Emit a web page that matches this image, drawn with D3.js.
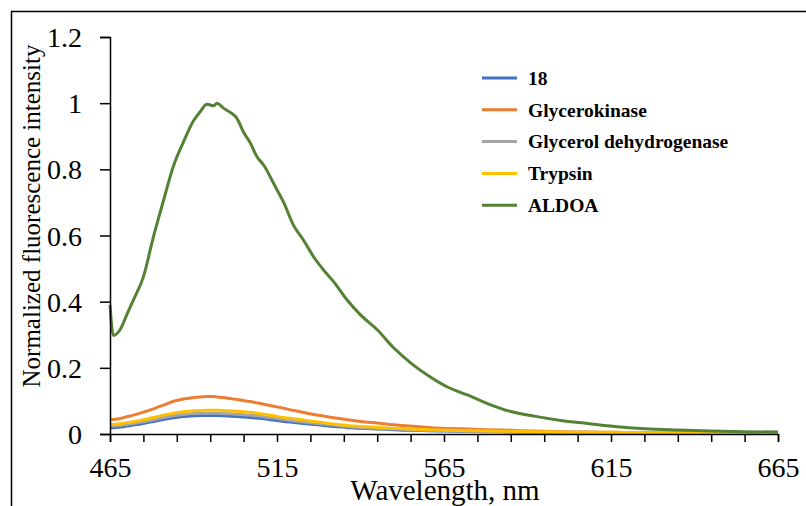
<!DOCTYPE html>
<html>
<head>
<meta charset="utf-8">
<script src="https://cdn.jsdelivr.net/npm/d3@7.9.0/dist/d3.min.js"></script>
<style>
  body { margin: 0; background: #fff; }
  text { font-family: 'Liberation Serif', serif; }
</style>
</head>
<body>
<svg id="chart" width="806" height="506"></svg>
<script>
// ====== DATA ======

const wavelengths = [465, 466, 468, 470, 472, 475, 478, 481, 484, 487, 490, 492, 494, 496, 497, 499,
  501, 503, 505, 507, 509, 511, 514, 517, 520, 523, 526, 529, 532, 536, 540, 545, 550, 555, 560,
  566, 572, 578, 585, 592, 600, 608, 616, 625, 635, 645, 655, 665];

const seriesNames = ['18', 'Glycerokinase', 'Glycerol dehydrogenase', 'Trypsin', 'ALDOA'];
const seriesColors = ['#4472C4', '#ED7D31', '#A5A5A5', '#FFC000', '#548235'];

const values18 = [0.019, 0.019, 0.021, 0.024, 0.027, 0.032, 0.038, 0.044, 0.049, 0.053, 0.055, 0.056,
  0.056, 0.056, 0.056, 0.055, 0.054, 0.053, 0.051, 0.050, 0.048, 0.046, 0.042, 0.038, 0.035, 0.032,
  0.029, 0.026, 0.023, 0.020, 0.017, 0.015, 0.013, 0.011, 0.010, 0.009, 0.008, 0.007, 0.006, 0.005,
  0.004, 0.004, 0.003, 0.003, 0.003, 0.002, 0.002, 0.002];

const valuesGlycerokinase = [0.044, 0.044, 0.047, 0.052, 0.057, 0.066, 0.076, 0.087, 0.099, 0.106,
  0.110, 0.112, 0.113, 0.113, 0.112, 0.110, 0.107, 0.104, 0.101, 0.098, 0.094, 0.090, 0.084, 0.078,
  0.071, 0.065, 0.059, 0.054, 0.049, 0.043, 0.038, 0.033, 0.028, 0.024, 0.020, 0.017, 0.015, 0.013,
  0.011, 0.009, 0.007, 0.006, 0.005, 0.004, 0.004, 0.003, 0.003, 0.003];

const valuesGlycerolDH = [0.024, 0.024, 0.026, 0.029, 0.032, 0.037, 0.043, 0.050, 0.055, 0.059, 0.062,
  0.063, 0.063, 0.063, 0.063, 0.062, 0.061, 0.060, 0.058, 0.057, 0.055, 0.052, 0.048, 0.044, 0.040,
  0.036, 0.033, 0.030, 0.027, 0.023, 0.020, 0.017, 0.015, 0.013, 0.011, 0.010, 0.009, 0.008, 0.007,
  0.006, 0.005, 0.005, 0.004, 0.004, 0.004, 0.004, 0.004, 0.004];

const valuesTrypsin = [0.029, 0.029, 0.031, 0.034, 0.037, 0.043, 0.050, 0.057, 0.063, 0.067, 0.070,
  0.071, 0.072, 0.072, 0.072, 0.071, 0.070, 0.069, 0.067, 0.066, 0.063, 0.060, 0.055, 0.050, 0.046,
  0.042, 0.038, 0.034, 0.030, 0.026, 0.023, 0.020, 0.017, 0.015, 0.013, 0.011, 0.010, 0.009, 0.008,
  0.007, 0.006, 0.005, 0.005, 0.004, 0.004, 0.004, 0.004, 0.004];

const valuesALDOA = [0.39, 0.298, 0.315, 0.36, 0.405, 0.475, 0.596, 0.705, 0.81, 0.883, 0.947, 0.974,
  0.997, 0.992, 1.0, 0.985, 0.972, 0.954, 0.912, 0.88, 0.838, 0.813, 0.757, 0.70, 0.63, 0.585, 0.535,
  0.495, 0.46, 0.405, 0.36, 0.315, 0.26, 0.215, 0.178, 0.142, 0.118, 0.092, 0.068, 0.054, 0.041,
  0.032, 0.023, 0.016, 0.012, 0.009, 0.007, 0.006];

const seriesValues = [values18, valuesGlycerokinase, valuesGlycerolDH, valuesTrypsin, valuesALDOA];

const xTickLabels = [465, 515, 565, 615, 665];
const xMinorTicks = [465, 475, 485, 495, 505, 515, 525, 535, 545, 555, 565, 575, 585, 595, 605, 615, 625, 635, 645, 655, 665];
const yTicks = [0, 0.2, 0.4, 0.6, 0.8, 1, 1.2];

// ====== LAYOUT ======

const svg = d3.select('#chart');
const plot = { left: 110, right: 778, top: 37, bottom: 434 };
const serif = "'Liberation Serif', 'Times New Roman', serif";

const x = d3.scaleLinear().domain([465, 665]).range([plot.left, plot.right]);
const y = d3.scaleLinear().domain([0, 1.2]).range([plot.bottom, plot.top]);

// outer frame (runs off the right and bottom edges)
svg.append('rect')
  .attr('x', 11.5).attr('y', 11.5)
  .attr('width', 900).attr('height', 700)
  .attr('fill', 'none')
  .attr('stroke', '#000')
  .attr('stroke-width', 1.5);

// ====== SERIES ======

const line = d3.line()
  .x((d) => x(d[0]))
  .y((d) => y(d[1]))
  .curve(d3.curveMonotoneX);

seriesValues.forEach((vals, i) => {
  svg.append('path')
    .datum(wavelengths.map((w, j) => [w, vals[j]]))
    .attr('fill', 'none')
    .attr('stroke', seriesColors[i])
    .attr('stroke-width', 3)
    .attr('stroke-linejoin', 'round')
    .attr('d', line);
});

// ====== AXES ======

const yAxis = svg.append('g')
  .attr('transform', `translate(${plot.left},0)`)
  .call(d3.axisLeft(y).tickValues(yTicks).tickSize(10).tickPadding(18)
    .tickFormat((d) => d3.format('~g')(d)));

const xAxis = svg.append('g')
  .attr('transform', `translate(0,${plot.bottom})`)
  .call(d3.axisBottom(x).tickValues(xMinorTicks).tickSize(8).tickPadding(15)
    .tickFormat((d) => (xTickLabels.includes(d) ? d : '')));

[yAxis, xAxis].forEach((g) => {
  g.attr('font-family', null).attr('font-size', null);
  g.select('.domain').attr('stroke', '#000').attr('stroke-width', 1.5);
  g.selectAll('.tick line').attr('stroke', '#000').attr('stroke-width', 1.5);
  g.selectAll('.tick text')
    .attr('fill', '#000')
    .style('font-family', serif)
    .style('font-size', '28px');
});
yAxis.selectAll('.tick text').attr('dy', '0.34em');
xAxis.selectAll('.tick text').attr('dy', '0.71em');

// axis titles
svg.append('text')
  .attr('transform', 'translate(40,216) rotate(-90)')
  .attr('text-anchor', 'middle')
  .style('font-family', serif)
  .style('font-size', '25px')
  .text('Normalized fluorescence intensity');

svg.append('text')
  .attr('x', 445)
  .attr('y', 500)
  .attr('text-anchor', 'middle')
  .style('font-family', serif)
  .style('font-size', '29px')
  .text('Wavelength, nm');

// ====== LEGEND ======

const legend = svg.append('g').attr('transform', 'translate(482,78)');
seriesNames.forEach((name, i) => {
  const row = legend.append('g').attr('transform', `translate(0,${i * 31.8})`);
  row.append('line')
    .attr('x1', 0).attr('x2', 35)
    .attr('stroke', seriesColors[i])
    .attr('stroke-width', 3);
  row.append('text')
    .attr('x', 46)
    .attr('dy', '0.35em')
    .style('font-family', serif)
    .style('font-size', '19.5px')
    .style('font-weight', 'bold')
    .text(name);
});
</script>
</body>
</html>
